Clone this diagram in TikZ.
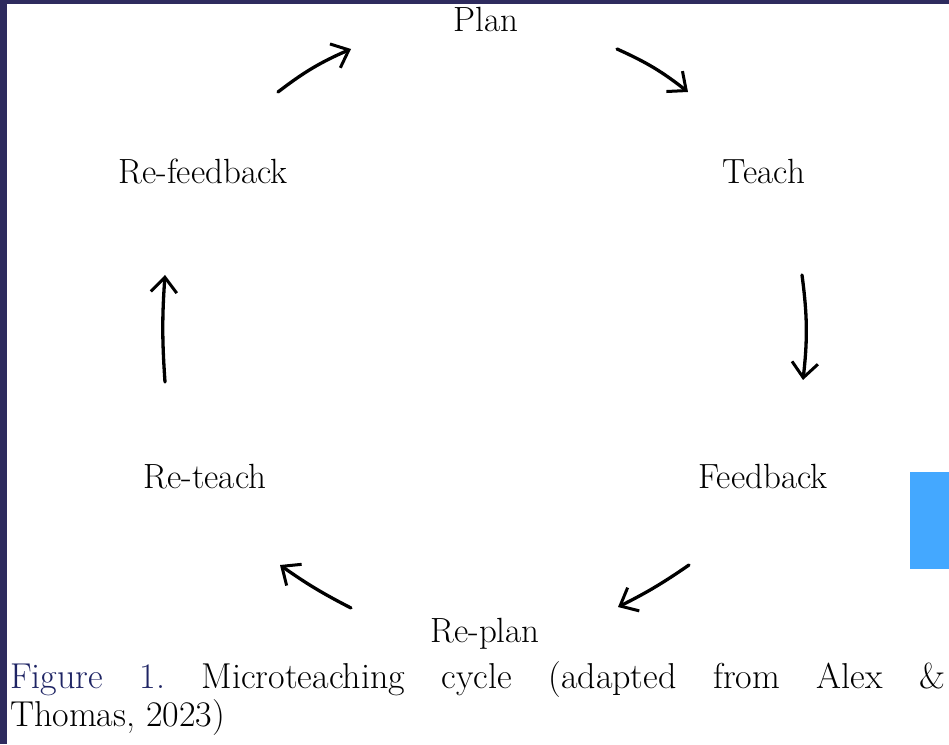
\documentclass[tikz,border=0pt]{standalone}
\usetikzlibrary{arrows.meta}
\definecolor{navy}{RGB}{46,43,94}
\definecolor{capblue}{RGB}{30,36,100}
\definecolor{tabblue}{RGB}{68,168,255}
\begin{document}
\frenchspacing
\begin{tikzpicture}[x=1pt,y=1pt,
  lbl/.style={anchor=base,inner sep=0pt,font=\fontsize{35}{40}\selectfont},
  captext/.style={anchor=base west,inner sep=0pt,font=\fontsize{36}{42}\selectfont},
  cyc/.style={line width=3.3pt,line cap=round,-{Straight Barb[length=15pt,width=26pt,line width=3pt]}}]
\useasboundingbox (0,0) rectangle (949,744);
\fill[white] (0,0) rectangle (949,744);
\fill[navy] (0,0) rectangle (7,744);
\fill[navy] (0,740) rectangle (949,744);
\fill[tabblue] (910,175) rectangle (949,272);
% labels
\node[lbl] (plan) at (486,712) {Plan};
\node[lbl] (teach) at (764,560) {Teach};
\node[lbl] (refeed) at (203,560) {Re-feedback};
\node[lbl] (feed) at (763,255) {Feedback};
\node[lbl] (reteach) at (205,255) {Re-teach};
\node[lbl] (replan) at (485,102) {Re-plan};
% arrow ends
\coordinate (a1s) at (278,652); \coordinate (a1e) at (351,695);
\coordinate (a2s) at (617,695); \coordinate (a2e) at (688,652);
\coordinate (a3s) at (802,469); \coordinate (a3e) at (803,364);
\coordinate (a4s) at (689,179); \coordinate (a4e) at (618,137);
\coordinate (a5s) at (351,136); \coordinate (a5e) at (280,179);
\coordinate (a6s) at (165,362); \coordinate (a6e) at (165,469);
\draw[cyc] (a1s) to[bend left=7] (a1e);
\draw[cyc] (a2s) to[bend left=7] (a2e);
\draw[cyc] (a3s) to[bend left=7] (a3e);
\draw[cyc] (a4s) to[bend left=4] (a4e);
\draw[cyc] (a5s) to[bend left=4] (a5e);
\draw[cyc] (a6s) to[bend left=4] (a6e);
% caption
\node[captext] (cap1) at (10,56) {\makebox[935pt][s]{\textcolor{capblue}{Figure 1.} Microteaching cycle (adapted from Alex \&}};
\node[captext] (cap2) at (10,18) {Thomas, 2023)};
\end{tikzpicture}
\end{document}
